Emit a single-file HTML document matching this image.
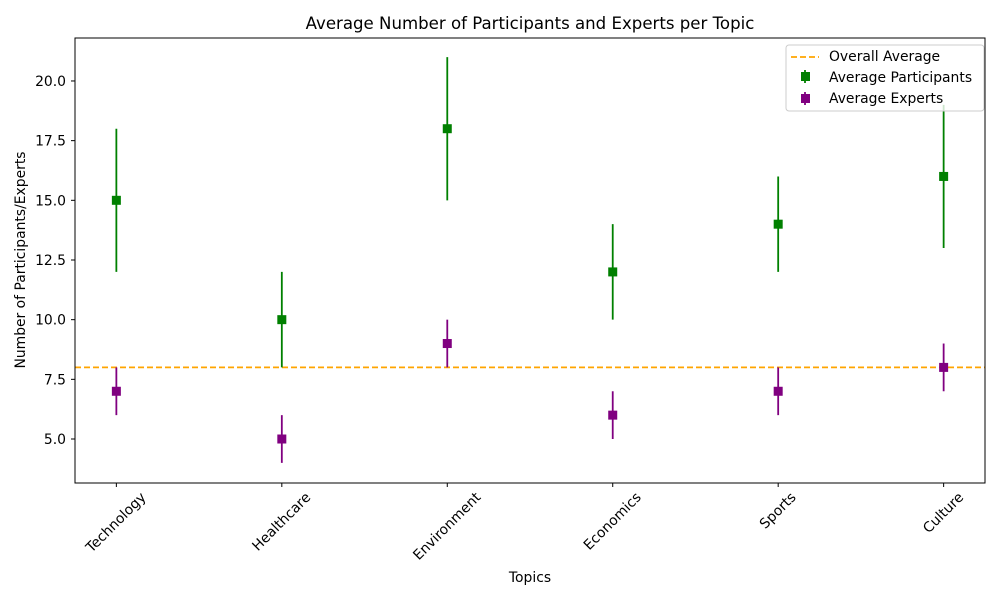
<!DOCTYPE html>
<html><head><meta charset="utf-8"><style>
body{margin:0;background:#fff;}
svg text{font-family:"DejaVu Sans","Liberation Sans",sans-serif;fill:#000;}
</style></head><body>
<svg id="chart" width="1000" height="600" xmlns="http://www.w3.org/2000/svg">
<rect width="1000" height="600" fill="#fff"/>
<text x="530" y="29" font-size="16.6" text-anchor="middle">Average Number of Participants and Experts per Topic</text>
<g id="plot"></g>
<rect x="75" y="38" width="910" height="445" fill="none" stroke="#000" stroke-width="1"/>
<text x="530" y="582" font-size="13.9" text-anchor="middle">Topics</text>
<text transform="translate(25,260) rotate(-90)" font-size="13.9" text-anchor="middle">Number of Participants/Experts</text>
<g>
<rect x="786" y="45" width="198" height="66" rx="3" fill="#fff" fill-opacity="0.8" stroke="#ccc"/>
<line x1="791" y1="57" x2="819" y2="57" stroke="orange" stroke-width="1.8" stroke-dasharray="6,3"/>
<text x="829" y="61" font-size="13.9">Overall Average</text>
<line x1="805" y1="70" x2="805" y2="83" stroke="green" stroke-width="1.8"/>
<rect x="801" y="72" width="9" height="9" fill="green"/>
<text x="829" y="82" font-size="13.9">Average Participants</text>
<line x1="805" y1="92" x2="805" y2="105" stroke="purple" stroke-width="1.8"/>
<rect x="801" y="94" width="9" height="9" fill="purple"/>
<text x="829" y="103" font-size="13.9">Average Experts</text>
</g>
</svg>
<script>
const categories=["Technology","Healthcare","Environment","Economics","Sports","Culture"];
const participants=[15,10,18,12,14,16];
const participantErr=[3,2,3,2,2,3];
const experts=[7,5,9,6,7,8];
const expertErr=[1,1,1,1,1,1];
const overallAverage=8;
const yTicks=[5.0,7.5,10.0,12.5,15.0,17.5,20.0];
const NS="http://www.w3.org/2000/svg";
const L=75,R=985,T=38,B=483,xmin=-0.25,xmax=5.25,ymin=3.157,ymax=21.8;
const xs=i=>L+(i-xmin)/(xmax-xmin)*(R-L);
const ys=v=>B-(v-ymin)/(ymax-ymin)*(B-T);
const g=document.getElementById('plot');
function mk(tag,a){const e=document.createElementNS(NS,tag);for(const k in a)e.setAttribute(k,a[k]);g.appendChild(e);return e;}
yTicks.forEach(v=>{
  const t=mk('line',{x1:L-4,x2:L,y1:ys(v),y2:ys(v),stroke:'#000'});
  
  
  const tx=mk('text',{x:L-9,y:ys(v)+5,'font-size':13.9,'text-anchor':'end'});
  tx.textContent=v.toFixed(1);
  
  
});
categories.forEach((c,i)=>{
  const x=xs(i);
  const t=mk('line',{x1:x,x2:x,y1:B,y2:B+4,stroke:'#000'});
  
  
  const tx=mk('text',{'font-size':13.9,'text-anchor':'middle','dominant-baseline':'central'});
  tx.textContent=c;
  
  
  const w=tx.getComputedTextLength();
  const half=(w/2+6)*0.7071;
  tx.setAttribute('transform',`translate(${x},${B+8+half}) rotate(-45)`);
});
const avg=mk('line',{x1:L,x2:R,y1:ys(overallAverage),y2:ys(overallAverage),stroke:'orange','stroke-width':1.8,'stroke-dasharray':'6,3'});


function series(vals,errs,color,name){
  vals.forEach((v,i)=>{
    const x=xs(i);
    const e=mk('line',{x1:x,x2:x,y1:ys(v-errs[i]),y2:ys(v+errs[i]),stroke:color,'stroke-width':1.8});
    
    
    const m=mk('rect',{x:x-4.5,y:ys(v)-4.5,width:9,height:9,fill:color});
    
    
  });
}
series(participants,participantErr,'green','participants');
series(experts,expertErr,'purple','experts');
</script>
</body></html>
